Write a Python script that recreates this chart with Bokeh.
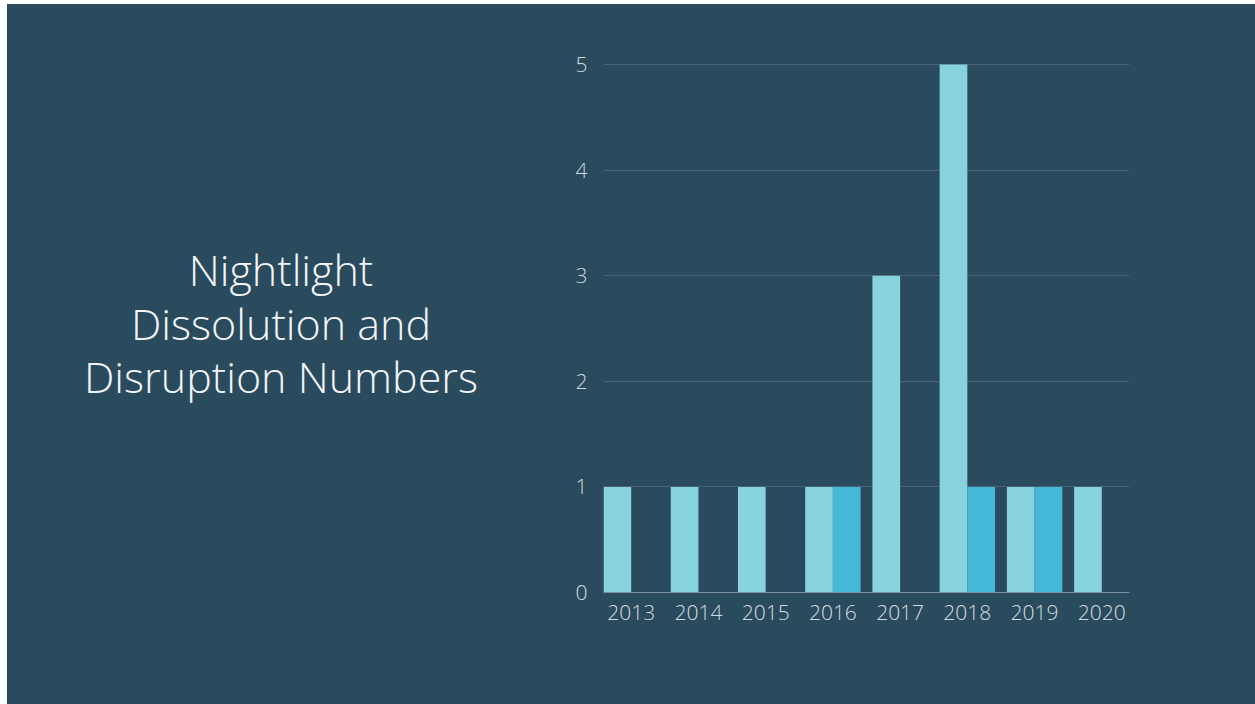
from bokeh.plotting import figure
from bokeh.models import Range1d, FixedTicker, Div
from bokeh.layouts import row
from bokeh.embed import file_html
from bokeh.resources import INLINE

years = ["2013", "2014", "2015", "2016", "2017", "2018", "2019", "2020"]
series_a = [1, 1, 1, 1, 3, 5, 1, 1]
series_b = [0, 0, 0, 1, 0, 1, 1, 0]
y_ticks = [0, 1, 2, 3, 4, 5]
title_lines = ["Nightlight", "Dissolution and", "Disruption Numbers"]

BG = "#2a4a5e"
LIGHT = "#86d3dd"
DARK = "#45b8d7"
LABEL = "#d0d9de"
FONT = "Open Sans Light, Open Sans"

# page geometry (pixels)
PAGE_L, PAGE_T, PAGE_H = 7, 4, 700
DIV_W = 521
FIG_L = PAGE_L + DIV_W
FIG_W = 1255 - FIG_L
FRAME_L, FRAME_R, FRAME_T, FRAME_B = 603, 1129, 62, 592

xs = list(range(len(years)))
bw = 0.412
x0, x1 = -bw, len(years) - 1 + bw
y0, y1 = 0, 5.02

p = figure(width=FIG_W, height=PAGE_H, output_backend="svg", toolbar_location=None,
           x_range=Range1d(x0, x1), y_range=Range1d(y0, y1),
           min_border_left=FRAME_L - FIG_L, min_border_right=1255 - FRAME_R,
           min_border_top=FRAME_T - PAGE_T, min_border_bottom=PAGE_T + PAGE_H - FRAME_B,
           margin=(PAGE_T, 0, 0, 0))
p.background_fill_color = None
p.border_fill_color = None
p.outline_line_color = None
p.styles = {"background-color": BG}

p.vbar(x=[x - bw / 2 for x in xs], top=series_a, width=bw, bottom=0,
       fill_color=LIGHT, line_color=None)
p.vbar(x=[x + bw / 2 for x in xs], top=series_b, width=bw, bottom=0,
       fill_color=DARK, line_color=None)

p.xgrid.grid_line_color = None
p.ygrid.ticker = FixedTicker(ticks=y_ticks)
p.ygrid.grid_line_color = "#4a6377"
p.ygrid.grid_line_width = 1

for ax in (p.xaxis[0], p.yaxis[0]):
    ax.major_tick_line_color = None
    ax.minor_tick_line_color = None
    ax.major_tick_out = 0
    ax.major_tick_in = 0
    ax.minor_tick_out = 0
    ax.major_label_text_color = LABEL
    ax.major_label_text_font = FONT
    ax.major_label_text_font_size = "21px"

p.yaxis.ticker = FixedTicker(ticks=y_ticks)
p.yaxis.axis_line_color = None
p.yaxis.major_label_standoff = 16

p.xaxis.ticker = FixedTicker(ticks=xs)
p.xaxis.major_label_overrides = {i: y for i, y in enumerate(years)}
p.xaxis.axis_line_color = "#7d8f9c"
p.xaxis.axis_line_width = 1
p.xaxis.major_label_standoff = 12

html = ("<div style=\"width:548px; padding-top:239px; text-align:center; "
        "font-family:'Open Sans'; font-weight:300; font-size:43px; line-height:53.7px; "
        "color:#f2f5f7; white-space:nowrap;\">" + "<br>".join(title_lines) + "</div>")
div = Div(text=html, width=DIV_W, height=PAGE_H, margin=(PAGE_T, 0, 0, PAGE_L),
          styles={"background-color": BG, "overflow": "hidden"})

layout = row(div, p, spacing=0)

open("out.html", "w").write(file_html(layout, INLINE))
